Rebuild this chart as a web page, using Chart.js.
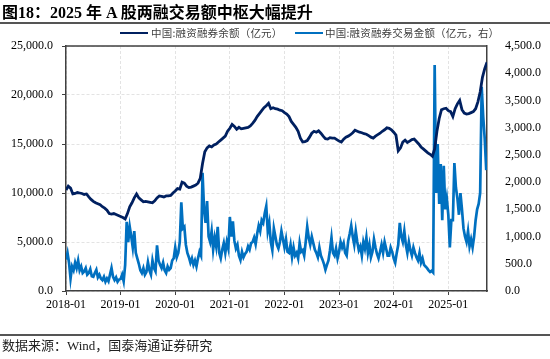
<!DOCTYPE html>
<html>
<head>
<meta charset="utf-8">
<script src="https://cdn.jsdelivr.net/npm/chart.js@4.4.0/dist/chart.umd.min.js"></script>
<style>
  body { margin: 0; width: 550px; height: 359px; background: #fff; position: relative; overflow: hidden; }
  #chart { position: absolute; left: 0; top: 0; }
  #title { position: absolute; left: 2px; top: 1px; font: bold 16px/20px "Liberation Serif", "Noto Sans CJK SC", serif; color: #000; white-space: nowrap; }
  #title .cn { font-family: "Noto Sans CJK SC", sans-serif; }
  .rule { position: absolute; left: 0; width: 550px; height: 2px; background: #555; }
  .lg-line { position: absolute; top: 31.5px; width: 28px; height: 2.5px; }
  .lg-text { position: absolute; top: 26px; font: 10.5px/14px "Noto Sans CJK SC", sans-serif; color: #404040; white-space: nowrap; letter-spacing: 0.2px; }
  #source { position: absolute; left: 2px; top: 338px; font: 13px/16px "Liberation Serif", "Noto Sans CJK SC", serif; color: #222; white-space: nowrap; }
</style>
</head>
<body>
<canvas id="chart" width="550" height="359"></canvas>
<div id="title"><span class="cn">图</span>18<span class="cn">：</span>2025 <span class="cn">年</span> A <span class="cn">股两融交易额中枢大幅提升</span></div>
<div class="rule" style="top:21.5px"></div>
<div class="lg-line" style="left:120px;background:#002060"></div>
<div class="lg-text" style="left:151px">中国:融资融券余额（亿元）</div>
<div class="lg-line" style="left:295px;background:#0070c0"></div>
<div class="lg-text" style="left:325px">中国:融资融券交易金额（亿元，右）</div>
<div class="rule" style="top:334px"></div>
<div id="source">数据来源：Wind，国泰海通证券研究</div>
<script>
// x axis labels, one per year (12 months apart)
const xLabels = ['2018-01', '2019-01', '2020-01', '2021-01', '2022-01', '2023-01', '2024-01', '2025-01'];

// 融资融券余额 (亿元), two readings per month from 2018-01
const balance = [
  10300, 10700, 10500, 9900, 9950, 10050, 10000, 9950, 9850, 9900,
  9600, 9350, 9150, 9000, 8900, 8800, 8600, 8450, 8250, 7900,
  7850, 7900, 7800, 7700, 7600, 7500, 7350, 7900, 8600, 9000,
  9500, 9900, 9500, 9300, 9100, 9150, 9100, 9050, 9000, 9200,
  9500, 9700, 9650, 9600, 9700, 9700, 9750, 10000, 10200, 10450,
  10400, 11100, 11000, 10700, 10550, 10600, 10700, 10800, 11000, 11500,
  13000, 14200, 14600, 14800, 14700, 14900, 15000, 15200, 15400, 15600,
  15800, 16300, 16600, 17000, 16800, 16500, 16700, 16550, 16600, 16650,
  16700, 16850, 17100, 17400, 17800, 18100, 18400, 18700, 18900, 19150,
  18600, 18700, 18600, 18550, 18450, 18400, 18200, 18050, 17800, 17300,
  17000, 16700, 16300, 15600, 15200, 15250, 15350, 15700, 16100, 16300,
  16200, 16350, 16100, 15800, 15550, 15500, 15650, 15600, 15600, 15450,
  15300, 15200, 15500, 15700, 15800, 15950, 16150, 16400, 16300, 16200,
  16150, 16050, 16000, 15850, 15700, 15600, 15800, 15950, 16100, 16300,
  16450, 16650, 16600, 16450, 16200, 15900, 14300, 14600, 15200, 15400,
  15150, 15300, 15450, 15500, 15250, 15000, 14700, 14500, 14300, 14100,
  13950, 13750, 14500, 16300, 17600, 18500, 18600, 18650, 18400, 18300,
  17800, 18600, 19100, 19450, 18500, 18150, 18050, 18100, 18200, 18300,
  18600, 19300, 20300, 21800, 22700, 23350
];

// 融资融券交易金额 (亿元, 右轴), three readings per month from 2018-01
const turnover = [
  580, 700, 520, 230, 450, 380, 520, 420, 560, 380, 450, 330,
  360, 420, 300, 330, 400, 270, 260, 330, 390, 250, 300, 230,
  200, 260, 170, 230, 180, 300, 420, 260, 200, 250, 170, 210,
  220, 300, 180, 480, 1270, 900, 1180, 1000, 800, 1100, 700, 600,
  500, 380, 330, 420, 300, 350, 530, 380, 300, 560, 420, 360,
  840, 560, 480, 420, 520, 380, 330, 450, 390, 420, 560, 600,
  800, 620, 700, 900, 1630, 1150, 1180, 850, 700, 620, 520, 600,
  480, 560, 450, 600, 720, 650, 2170, 1500, 1250, 1650, 1000, 900,
  1100, 760, 980, 820, 1180, 700, 600, 760, 880, 700, 900, 780,
  1360, 1000, 1280, 920, 780, 850, 650, 570, 720, 620, 680, 720,
  820, 760, 880, 900, 980, 860, 1050, 1200, 1100, 1300, 1250, 1430,
  1560, 1100, 1250, 900, 750, 1150, 1000, 850, 780, 900, 1100, 950,
  800, 950, 720, 700, 850, 620, 800, 650, 700, 600, 880, 720,
  750, 650, 900, 1180, 980, 850, 1000, 880, 760, 700, 620, 800,
  650, 580, 500, 390, 480, 560, 750, 980, 700, 650, 780, 600,
  720, 900, 800, 880, 700, 650, 920, 1050, 1200, 1000, 850, 1100,
  900, 750, 820, 650, 900, 780, 980, 700, 850, 620, 720, 950,
  800, 680, 600, 720, 850, 700, 900, 780, 650, 650, 800, 720,
  600, 520, 700, 850, 1250, 1000, 900, 1100, 850, 700, 900, 750,
  650, 800, 700, 620, 560, 700, 520, 600, 480, 450, 420, 380,
  350, 370, 340, 4150, 1800, 2700, 1600, 2330, 1300, 2300, 1500, 1700,
  1400, 800, 1300, 1300, 2350, 1900, 1700, 1400, 1800, 1500, 1150, 1000,
  900, 1100, 820, 950, 800, 1000, 1300, 1500, 1600, 1800, 3750, 3200,
  2800, 2220
];

const fmt = v => v.toLocaleString('en-US', { minimumFractionDigits: 1, maximumFractionDigits: 1 });
const axisColor = '#404040';

Chart.defaults.font.family = '"Liberation Serif", serif';
Chart.defaults.font.size = 12;
Chart.defaults.color = '#000';

const plotBox = {
  id: 'plotBox',
  afterDraw(chart) {
    const { ctx, chartArea: a } = chart;
    ctx.save();
    ctx.strokeStyle = axisColor;
    ctx.lineWidth = 1.5;
    ctx.beginPath();
    ctx.moveTo(a.left, a.top);
    ctx.lineTo(a.right, a.top);
    ctx.stroke();
    ctx.restore();
  }
};

new Chart(document.getElementById('chart'), {
  type: 'line',
  data: {
    datasets: [
      {
        label: '中国:融资融券余额（亿元）',
        data: balance.map((v, i) => ({ x: i / 2, y: v })),
        borderColor: '#002060',
        borderWidth: 2.8,
        pointRadius: 0,
        yAxisID: 'y',
        order: 0
      },
      {
        label: '中国:融资融券交易金额（亿元，右）',
        data: turnover.map((v, i) => ({ x: i / 3, y: v })),
        borderColor: '#0070c0',
        borderWidth: 2.7,
        pointRadius: 0,
        yAxisID: 'y1',
        order: 1
      }
    ]
  },
  options: {
    responsive: false,
    animation: false,
    devicePixelRatio: 1,
    layout: { padding: { top: 46, left: 0, right: 0, bottom: 0 } },
    plugins: { legend: { display: false }, tooltip: { enabled: false } },
    scales: {
      x: {
        type: 'linear',
        min: 0,
        max: 92.5,
        afterBuildTicks: s => { s.ticks = xLabels.map((_, i) => ({ value: i * 12 })); },
        afterFit: s => { s.height = 68; },
        ticks: { callback: (v, i) => xLabels[i], padding: 3, maxRotation: 0, autoSkip: false },
        grid: { color: '#e3e3e3', tickColor: axisColor, tickLength: 4 },
        border: { color: axisColor, width: 1.5, dash: [3, 2] }
      },
      y: {
        position: 'left',
        min: 0,
        max: 25000,
        afterFit: s => { s.width = 66; },
        ticks: { stepSize: 5000, callback: v => fmt(v), padding: 9 },
        grid: { color: '#e3e3e3', tickColor: axisColor, tickLength: 4 },
        border: { color: axisColor, width: 1.5, dash: [3, 2] }
      },
      y1: {
        position: 'right',
        min: 0,
        max: 4500,
        afterFit: s => { s.width = 63; },
        ticks: { stepSize: 500, callback: v => fmt(v), padding: 10 },
        grid: { display: false },
        border: { color: axisColor, width: 1.5 }
      }
    }
  },
  plugins: [plotBox]
});
</script>
</body>
</html>
